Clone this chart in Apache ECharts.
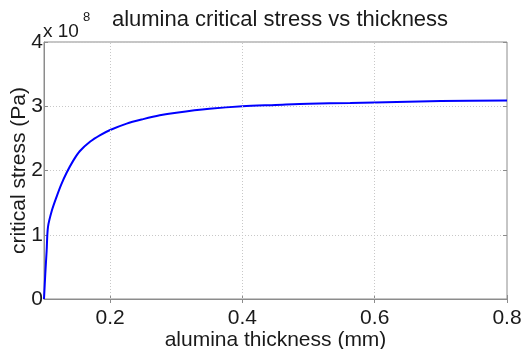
<!DOCTYPE html>
<html>
<head>
<meta charset="utf-8">
<script src="https://cdn.jsdelivr.net/npm/echarts@6/dist/echarts.min.js"></script>
<style>
  html, body { margin: 0; padding: 0; background: #fff; }
  #chart { width: 523px; height: 349px; }
</style>
</head>
<body>
<div id="chart"></div>
<script>
// thickness in mm, stress in units of 1e8 Pa
const thickness = [0.1, 0.102, 0.104, 0.106, 0.112, 0.119, 0.126, 0.134, 0.144, 0.154, 0.17, 0.185,
  0.2, 0.225, 0.25, 0.275, 0.3, 0.35, 0.4, 0.45, 0.5, 0.563, 0.6, 0.7, 0.8]
const stress = [0, 0.4, 0.75, 1.12, 1.38, 1.59, 1.78, 1.96, 2.15, 2.3, 2.45, 2.55,
  2.63, 2.73, 2.8, 2.86, 2.9, 2.96, 3.0, 3.02, 3.04, 3.05, 3.06, 3.08, 3.09]
const xTicks = [0.2, 0.4, 0.6, 0.8]
const yTicks = [0, 1, 2, 3, 4]

const font = 'Liberation Sans'
const boxColor = '#8c8c8c'
const textColor = '#1a1a1a'

let chart = echarts.init(document.getElementById('chart'))

let option = {
  animation: false,
  title: {
    text: 'alumina critical stress vs thickness',
    left: 275,
    top: 4,
    textAlign: 'center',
    textStyle: { fontFamily: font, fontSize: 22, fontWeight: 'normal', color: textColor }
  },
  graphic: [
    // axis multiplier, as MATLAB draws it above the y axis
    {
      type: 'text', left: 43, top: 22,
      style: { text: 'x 10', fontFamily: font, fontSize: 19, fill: textColor }
    },
    {
      type: 'text', left: 83, top: 11,
      style: { text: '8', fontFamily: font, fontSize: 13, fill: textColor }
    }
  ],
  grid: {
    left: 44, right: 16, top: 42, bottom: 50,
    outerBoundsMode: 'none',
    containLabel: false,
    show: true, borderColor: boxColor, borderWidth: 1
  },
  xAxis: [
    {
      type: 'value',
      min: 0.1, max: 0.8,
      name: 'alumina thickness (mm)',
      nameLocation: 'middle',
      nameGap: 31,
      nameMoveOverlap: false,
      nameTextStyle: { fontFamily: font, fontSize: 21, color: textColor },
      axisLine: { lineStyle: { color: boxColor } },
      axisTick: { inside: true, length: 4, lineStyle: { color: boxColor }, customValues: xTicks },
      axisLabel: {
        fontFamily: font, fontSize: 21, color: textColor, margin: 9,
        customValues: xTicks,
        formatter: v => v.toFixed(1)
      },
      splitLine: { show: false }
    },
    {
      type: 'value',
      position: 'top',
      min: 0.1, max: 0.8,
      axisLine: { show: false },
      axisTick: { inside: true, length: 4, lineStyle: { color: boxColor }, customValues: xTicks },
      axisLabel: { show: false },
      splitLine: { show: false }
    }
  ],
  yAxis: [
    {
      type: 'value',
      min: 0, max: 4, interval: 1,
      name: 'critical stress (Pa)',
      nameLocation: 'middle',
      nameGap: 14,
      nameMoveOverlap: false,
      nameTextStyle: { fontFamily: font, fontSize: 21, color: textColor },
      axisLine: { show: true, lineStyle: { color: boxColor } },
      axisTick: { show: true, inside: true, length: 4, lineStyle: { color: boxColor } },
      axisLabel: { fontFamily: font, fontSize: 21, color: textColor, margin: 1 },
      splitLine: { lineStyle: { color: '#c8c8c8', type: [1, 2] } }
    },
    {
      type: 'value',
      position: 'right',
      min: 0, max: 4, interval: 1,
      axisLine: { show: false },
      axisTick: { show: true, inside: true, length: 4, lineStyle: { color: boxColor } },
      axisLabel: { show: false },
      splitLine: { show: false }
    }
  ],
  series: [
    {
      type: 'line',
      data: thickness.map((t, i) => [t, stress[i]]),
      smooth: 0.3,
      showSymbol: false,
      lineStyle: { color: '#0000ff', width: 2 }
    },
    {
      // vertical dotted grid lines at x ticks
      type: 'line',
      data: [],
      markLine: {
        silent: true,
        symbol: 'none',
        label: { show: false },
        lineStyle: { color: '#c8c8c8', type: [1, 2], width: 1 },
        data: xTicks.slice(0, 3).map(v => ({ xAxis: v }))
      }
    }
  ]
}

chart.setOption(option)
</script>
</body>
</html>
